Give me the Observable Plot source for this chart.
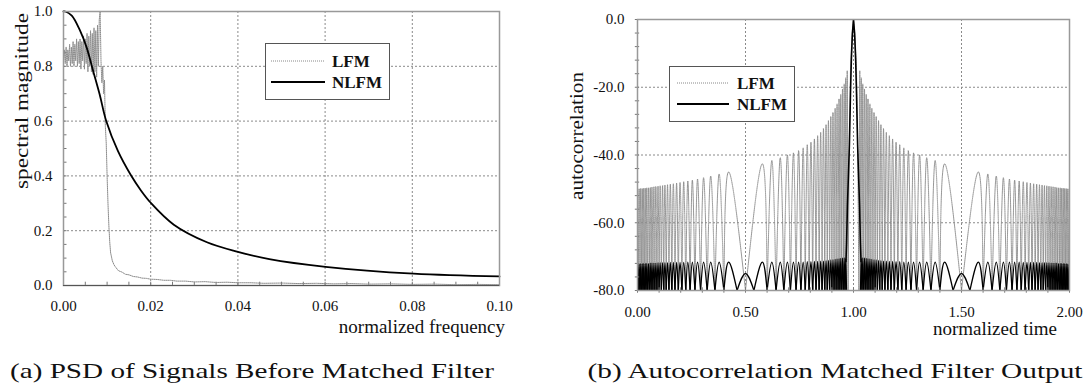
<!DOCTYPE html>
<html><head><meta charset="utf-8">
<script src="https://cdn.jsdelivr.net/npm/d3@7"></script>
<script src="https://cdn.jsdelivr.net/npm/@observablehq/plot@0.6"></script>
<style>
body{margin:0;background:#fff;}
#wrap{position:relative;width:1087px;height:392px;overflow:hidden;font-family:"Liberation Serif","Times New Roman",serif;}
#left,#right{position:absolute;top:0;}
#left{left:0px}
#right{left:560px}
#overlay{position:absolute;left:0;top:0;pointer-events:none}
</style></head><body>
<div id="wrap"><div id="left"></div><div id="right"></div><svg id="overlay" width="1087" height="392"></svg></div>
<script>
// ---------- (a) PSD data ----------
const psdFreqLFM = [0.0000,0.0002,0.0004,0.0006,0.0008,0.0010,0.0012,0.0014,0.0016,0.0018,0.0020,0.0022,0.0024,0.0026,0.0028,0.0030,0.0032,0.0034,0.0036,0.0038,0.0040,0.0042,0.0044,0.0046,0.0048,0.0050,0.0052,0.0054,0.0056,0.0058,0.0060,0.0062,0.0064,0.0066,0.0068,0.0070,0.0072,0.0074,0.0076,0.0078,0.0080,0.0082,0.0084,0.0086,0.0088,0.0090,0.0092,0.0094,0.0096,0.0098,0.0100,0.0102,0.0104,0.0106,0.0108,0.0112,0.0116,0.0120,0.0126,0.0134,0.0142,0.0150,0.0160,0.0170,0.0180,0.0190,0.0200,0.0215,0.0230,0.0245,0.0260,0.0280,0.0300,0.0325,0.0350,0.0375,0.0400,0.0430,0.0460,0.0500,0.0540,0.0580,0.0620,0.0660,0.0700,0.0750,0.0800,0.0850,0.0900,0.0950,0.1000];
const psdMagLFM  = [0.82,0.86,0.81,0.87,0.80,0.86,0.82,0.88,0.80,0.87,0.81,0.89,0.80,0.88,0.82,0.90,0.80,0.89,0.81,0.90,0.79,0.89,0.82,0.91,0.79,0.90,0.81,0.92,0.78,0.91,0.80,0.93,0.78,0.92,0.77,0.94,0.78,0.93,0.76,0.95,0.80,0.97,1.00,0.82,0.74,0.80,0.70,0.75,0.58,0.52,0.40,0.30,0.22,0.16,0.12,0.090,0.075,0.066,0.054,0.049,0.041,0.039,0.033,0.031,0.027,0.026,0.023,0.022,0.019,0.019,0.016,0.016,0.013,0.014,0.011,0.012,0.010,0.010,0.008,0.009,0.007,0.008,0.006,0.007,0.005,0.006,0.004,0.005,0.003,0.004,0.003];
const psdFreqNLFM = [0.0000,0.0004,0.0019,0.0038,0.0053,0.0068,0.0083,0.0098,0.0125,0.0154,0.0178,0.0200,0.0253,0.0329,0.0400,0.0472,0.0601,0.0803,0.1000];
const psdMagNLFM  = [1.000,1.000,0.985,0.930,0.869,0.783,0.697,0.600,0.490,0.404,0.346,0.302,0.222,0.158,0.123,0.096,0.068,0.043,0.033];
const xTicksA = [0,0.02,0.04,0.06,0.08,0.1];
const yTicksA = [0,0.2,0.4,0.6,0.8,1.0];

// ---------- (b) autocorrelation data (0 <= t < 1; mirrored about t = 1) ----------
const nlfmLobeT = [0.001,0.008,0.015,0.022,0.029,0.036,0.043,0.051,0.059,0.067,0.076,0.085,0.095,0.105,0.116,0.127,0.139,0.152,0.166,0.181,0.197,0.214,0.233,0.254,0.278,0.306,0.339,0.378,0.422,0.500,0.578,0.622,0.661,0.694,0.722,0.746,0.767,0.786,0.803,0.819,0.834,0.848,0.861,0.873,0.884,0.895,0.905,0.915,0.924,0.933,0.941,0.949,0.957,0.964];
const nlfmLobeDb = [-72.2,-72.2,-72.1,-72.1,-72.0,-72.0,-72.0,-72.0,-71.9,-71.9,-71.9,-71.9,-71.8,-71.8,-71.8,-71.8,-71.8,-71.7,-71.7,-71.7,-71.7,-71.7,-71.6,-71.6,-71.6,-71.6,-71.6,-71.6,-71.6,-75.0,-71.6,-71.6,-71.6,-71.6,-71.6,-71.6,-71.6,-71.5,-71.5,-71.4,-71.4,-71.3,-71.3,-71.2,-71.1,-71.0,-70.9,-70.8,-70.7,-70.6,-70.5,-70.4,-70.4,-70.6];
const lfmLobeT = [0.001,0.008,0.015,0.022,0.029,0.036,0.043,0.051,0.059,0.067,0.076,0.085,0.095,0.105,0.116,0.127,0.139,0.152,0.166,0.181,0.197,0.214,0.233,0.254,0.278,0.306,0.339,0.378,0.422,0.578,0.622,0.661,0.694,0.722,0.746,0.767,0.786,0.803,0.819,0.834,0.848,0.861,0.873,0.884,0.895,0.905,0.915,0.924,0.933,0.941,0.949,0.957,0.964,0.971];
const lfmLobeDb = [-50.0,-50.0,-49.9,-49.9,-49.8,-49.8,-49.7,-49.7,-49.6,-49.5,-49.4,-49.3,-49.2,-49.1,-49.0,-48.9,-48.8,-48.6,-48.5,-48.3,-48.1,-47.9,-47.7,-47.4,-47.1,-46.7,-46.2,-45.6,-45.0,-42.6,-41.6,-40.8,-40.0,-39.4,-38.7,-37.9,-37.0,-36.2,-35.3,-34.3,-33.3,-32.2,-31.1,-29.9,-28.7,-27.5,-26.2,-24.9,-23.5,-22.1,-20.6,-19.0,-17.2,-15.2];
const nlfmMainT  = [0.965,0.968,0.972,0.977,0.981,0.986,0.990,0.995,1.000,1.005,1.010,1.014,1.019,1.023,1.028,1.032,1.035];
const nlfmMainDb = [-71.5,-66,-55,-45,-37,-22,-12,-4,0,-4,-12,-22,-37,-45,-55,-66,-71.5];
const lfmMainT  = [0.975,0.980,0.986,0.992,1.000,1.008,1.014,1.020,1.025];
const lfmMainDb = [-80,-40,-15,-6,0,-6,-15,-40,-80];
const xTicksB = [0,0.5,1,1.5,2];
const yTicksB = [-80,-60,-40,-20,0];

// ---------- helpers ----------
function lobeRows(centers, peaks, series) {
  const rows = [];
  const halves = [
    {c: centers, p: peaks},
    {c: centers.map(t => 2 - t).reverse(), p: peaks.slice().reverse()}
  ];
  let id = 0;
  for (const h of halves) {
    const n = h.c.length;
    for (let i = 0; i < n; i++) {
      const c = h.c[i];
      const l = i > 0 ? (h.c[i-1] + c) / 2 : c - (h.c[i+1] - c) / 2;
      const r = i < n - 1 ? (c + h.c[i+1]) / 2 : c + (c - h.c[i-1]) / 2;
      const key = series + (id++);
      rows.push({t: l, db: -80, k: key}, {t: c, db: h.p[i], k: key}, {t: r, db: -80, k: key});
    }
  }
  return rows;
}
const zip = (xs, ys) => xs.map((x, i) => ({x, y: ys[i]}));

const baseStyle = {fontFamily: "'Liberation Serif','Times New Roman',serif", fontSize: "15px", color: "#111", background: "transparent", overflow: "visible"};
const grid = {stroke: "#8a8a8a", strokeDasharray: "2,2", strokeWidth: 1};

// ---------- chart (a) ----------
const yMinorA = d3.range(0, 1.0001, 0.05);
const xMinorA = d3.range(0, 0.10001, 0.005);
const chartA = Plot.plot({
  width: 540, height: 340,
  marginLeft: 63, marginRight: 41, marginTop: 11, marginBottom: 55,
  style: baseStyle,
  x: {domain: [0, 0.1], ticks: xTicksA, tickFormat: d => d.toFixed(2), tickSize: 0, tickPadding: 15, label: null},
  y: {domain: [0, 1], ticks: yTicksA, tickFormat: d => d.toFixed(1), tickSize: 0, tickPadding: 11, label: null},
  marks: [
    Plot.ruleX([0.02, 0.04, 0.06, 0.08], grid),
    Plot.ruleY([0.2, 0.4, 0.6, 0.8], grid),
    Plot.ruleY(yMinorA, {x1: 0, x2: 0.0008, stroke: "#777"}),
    Plot.ruleX(xMinorA, {y1: 0, y2: 0.012, stroke: "#777"}),
    Plot.line(zip(psdFreqLFM, psdMagLFM), {x: "x", y: "y", stroke: "#8c8c8c", strokeWidth: 1, strokeDasharray: "1,1"}),
    Plot.line(zip(psdFreqNLFM, psdMagNLFM), {x: "x", y: "y", stroke: "#000", strokeWidth: 1.8, curve: "catmull-rom"}),
    Plot.frame({stroke: "#999", strokeWidth: 1.5}),
    Plot.ruleY([0], {stroke: "#555", strokeWidth: 1})
  ]
});
document.getElementById("left").appendChild(chartA);

// ---------- chart (b) ----------
const yMinorB = d3.range(-80, 0.001, 4);
const xMinorB = d3.range(0, 2.0001, 0.1);
const chartB = Plot.plot({
  width: 527, height: 340,
  marginLeft: 77, marginRight: 18, marginTop: 19, marginBottom: 50,
  style: baseStyle,
  x: {domain: [0, 2], ticks: xTicksB, tickFormat: d => d.toFixed(2), tickSize: 0, tickPadding: 16, label: null},
  y: {domain: [-80, 0], ticks: yTicksB, tickFormat: d => d.toFixed(1), tickSize: 0, tickPadding: 13, label: null},
  marks: [
    Plot.ruleX([0.5, 1, 1.5], grid),
    Plot.ruleY([-20, -40, -60], grid),
    Plot.line(lobeRows(lfmLobeT, lfmLobeDb, "L"), {x: "t", y: "db", z: "k", stroke: "#8c8c8c", strokeWidth: 1, strokeDasharray: "1,1", curve: "natural", clip: true}),
    Plot.line(zip(lfmMainT, lfmMainDb), {x: "x", y: "y", stroke: "#8c8c8c", strokeWidth: 1, strokeDasharray: "1,1", clip: true}),
    Plot.line(lobeRows(nlfmLobeT, nlfmLobeDb, "N"), {x: "t", y: "db", z: "k", stroke: "#000", strokeWidth: 1.3, curve: "natural", clip: true}),
    Plot.line(zip(nlfmMainT, nlfmMainDb), {x: "x", y: "y", stroke: "#000", strokeWidth: 1.6, clip: true}),
    Plot.ruleY(yMinorB, {x1: -0.01, x2: 0.01, stroke: "#777"}),
    Plot.ruleX(xMinorB, {y1: -80.8, y2: -79.2, stroke: "#777"}),
    Plot.frame({stroke: "#999", strokeWidth: 1.5})
  ]
});
document.getElementById("right").appendChild(chartB);

// ---------- overlay text: titles, legends, captions ----------
const ov = d3.select("#overlay");
const serif = "'Liberation Serif','Times New Roman',serif";
function txt(x, y, s, opts = {}) {
  const t = ov.append("text").attr("x", x).attr("y", y).text(s)
    .attr("font-family", serif).attr("font-size", opts.size || 19)
    .attr("fill", opts.fill || "#111")
    .attr("text-anchor", opts.anchor || "start");
  if (opts.weight) t.attr("font-weight", opts.weight);
  if (opts.rotate) t.attr("transform", `rotate(${opts.rotate},${x},${y})`);
  if (opts.len) t.attr("textLength", opts.len).attr("lengthAdjust", "spacingAndGlyphs");
  return t;
}
txt(28, 101, "spectral magnitude", {anchor: "middle", rotate: -90, len: 176});
txt(583, 136, "autocorrelation", {anchor: "middle", rotate: -90, len: 128});
txt(505, 333, "normalized frequency", {anchor: "end"});
txt(1057, 335, "normalized time", {anchor: "end"});
txt(252, 378, "(a) PSD of Signals Before Matched Filter", {anchor: "middle", size: 22, len: 484});
txt(835, 378, "(b) Autocorrelation Matched Filter Output", {anchor: "middle", size: 22, len: 495});

function legend(x, y, w, h, lx1, lx2, ly1, ly2, tx) {
  ov.append("rect").attr("x", x).attr("y", y).attr("width", w).attr("height", h)
    .attr("fill", "#fff").attr("stroke", "#555").attr("stroke-width", 1);
  ov.append("line").attr("x1", lx1).attr("x2", lx2).attr("y1", ly1).attr("y2", ly1)
    .attr("stroke", "#888").attr("stroke-width", 1).attr("stroke-dasharray", "1,1");
  ov.append("line").attr("x1", lx1).attr("x2", lx2).attr("y1", ly2).attr("y2", ly2)
    .attr("stroke", "#000").attr("stroke-width", 2);
  txt(tx, ly1 + 6, "LFM", {size: 17, weight: "bold"});
  txt(tx, ly2 + 6, "NLFM", {size: 17, weight: "bold"});
}
legend(265.5, 43.5, 124, 56, 271, 325, 61, 82, 332);
legend(669.5, 66.5, 125, 55, 677, 729, 83, 104, 737);
</script>
</body></html>
